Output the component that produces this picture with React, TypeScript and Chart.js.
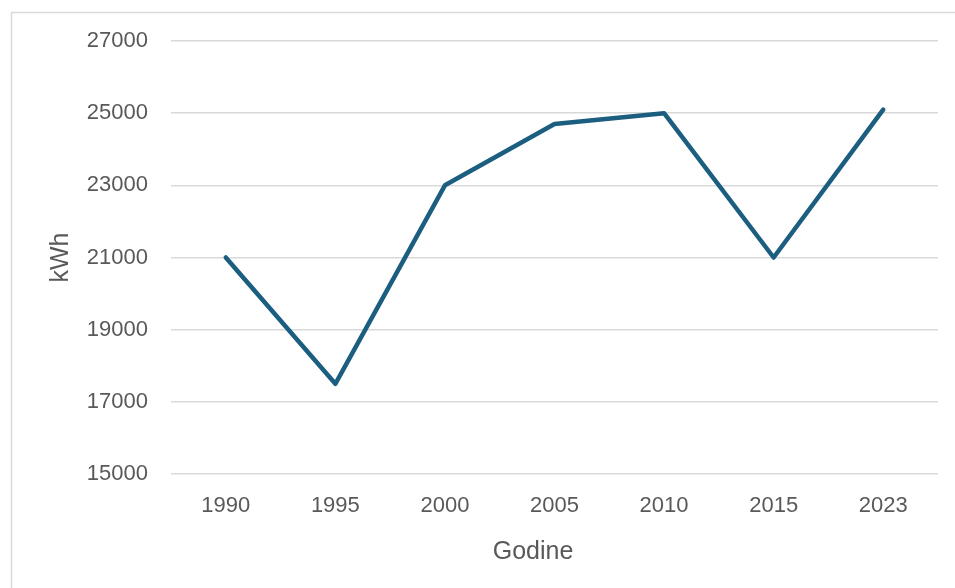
import React, { useEffect, useRef } from "react";
import { Chart, registerables } from "chart.js";

Chart.register(...registerables);

const years = ["1990", "1995", "2000", "2005", "2010", "2015", "2023"];
const kwh = [21000, 17500, 23000, 24700, 25000, 21000, 25100];
const yMin = 15000;
const yMax = 27000;
const yStep = 2000;
const xTitle = "Godine";
const yTitle = "kWh";

const FONT = "'Liberation Sans', Arial, sans-serif";
const TEXT = "#595959";

const framePlugin = {
  id: "frame",
  beforeDraw(chart: any) {
    const ctx = chart.ctx;
    ctx.save();
    ctx.fillStyle = "#ffffff";
    ctx.fillRect(0, 0, chart.width, chart.height);
    ctx.strokeStyle = "#d9d9d9";
    ctx.lineWidth = 1.5;
    ctx.beginPath();
    ctx.moveTo(11.5, chart.height);
    ctx.lineTo(11.5, 12.5);
    ctx.lineTo(chart.width, 12.5);
    ctx.stroke();
    ctx.restore();
  },
  afterDraw(chart: any) {
    const ctx = chart.ctx;
    ctx.save();
    ctx.fillStyle = TEXT;
    ctx.font = `25px ${FONT}`;
    ctx.textAlign = "center";
    ctx.textBaseline = "middle";
    ctx.fillText(xTitle, 533, 552);
    ctx.restore();
  },
};

export default function App() {
  const ref = useRef<HTMLCanvasElement | null>(null);
  useEffect(() => {
    if (!ref.current) return;
    const chart = new Chart(ref.current, {
      type: "line",
      data: {
        labels: years,
        datasets: [
          {
            data: kwh,
            borderColor: "#1B5E80",
            borderWidth: 4.5,
            pointRadius: 0,
            tension: 0,
            borderCapStyle: "round",
            borderJoinStyle: "round",
          },
        ],
      },
      plugins: [framePlugin],
      options: {
        animation: false,
        responsive: false,
        maintainAspectRatio: false,
        layout: { padding: { left: 0, right: 17, top: 41, bottom: 0 } },
        plugins: { legend: { display: false }, tooltip: { enabled: false } },
        scales: {
          x: {
            offset: true,
            grid: { display: false, drawTicks: false },
            border: { display: false },
            ticks: { color: TEXT, font: { family: FONT, size: 22 }, padding: 19, maxRotation: 0 },
            afterFit(scale: any) {
              scale.height = 114;
            },
          },
          y: {
            min: yMin,
            max: yMax,
            ticks: {
              stepSize: yStep,
              color: TEXT,
              font: { family: FONT, size: 22 },
              padding: 23,
              callback: (v: any) => String(v),
            },
            grid: { color: "#d9d9d9", lineWidth: 1.5, drawTicks: false },
            border: { display: false },
            title: {
              display: true,
              text: yTitle,
              color: TEXT,
              font: { family: FONT, size: 25 },
              padding: { top: 46, bottom: 0 },
            },
            afterFit(scale: any) {
              scale.width = 171;
            },
          },
        },
      },
    });
    return () => chart.destroy();
  }, []);
  return (
    <div style={{ position: "absolute", left: 0, top: 0, width: 955, height: 588 }}>
      <canvas ref={ref} width={955} height={588} style={{ display: "block" }} />
    </div>
  );
}
